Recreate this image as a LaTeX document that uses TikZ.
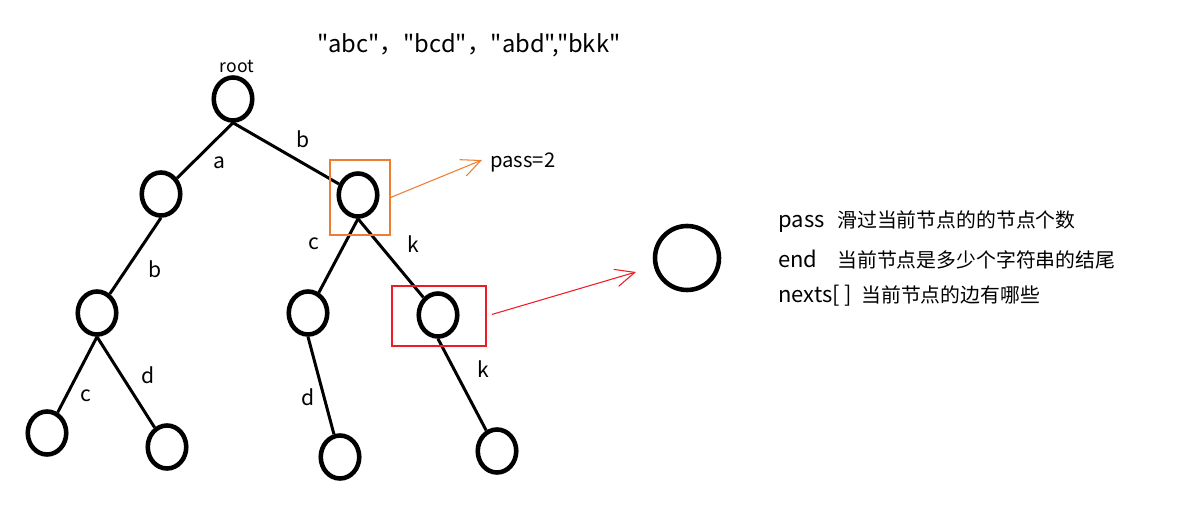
\documentclass[tikz,border=0pt]{standalone}
\usepackage{fontspec}
\setmainfont{Noto Sans CJK SC}[Ligatures=TeXOff]
\usetikzlibrary{shapes.geometric,arrows.meta}
\definecolor{boxorange}{RGB}{237,125,49}
\definecolor{boxred}{RGB}{237,28,36}

\begin{document}
\begin{tikzpicture}[x=0.02cm,y=-0.02cm,
  trie/.style={ellipse,draw,line width=2.6pt,minimum width=0.77cm,minimum height=0.86cm,inner sep=0pt},
  edge/.style={line width=1.7pt},
  lbl/.style={inner sep=0pt,font=\fontsize{12}{14}\selectfont},
  pointer/.style={line width=0.6pt,-{Straight Barb[length=11pt,width=10pt]}}]
  \useasboundingbox (0,0) rectangle (1192,517);
  \def\latin{\fontsize{12.5}{15}\selectfont}
  \def\zh{\fontsize{11.3}{14}\selectfont}
  % ---------------- words ----------------
  \node[anchor=base west,inner sep=0pt,font=\fontsize{13.5}{16}\selectfont] (words) at (317,53) {"abc"，"bcd"，"abd","bkk"};
  % ---------------- trie ----------------
  \foreach \n/\x/\y in {root/233/99,na/161/194,nb/358/195,nab/97/313,nbc/308/313,nbk/438/315,
                        nabc/47/433,nabd/167/447,nbcd/340/457,nbkk/497/451}
    \node[trie] (\n) at (\x,\y) {};
  \node[anchor=base,inner sep=0pt,font=\fontsize{10}{12}\selectfont] (rootlbl) at (237,72) {root};
  \foreach \u/\v/\c/\lx/\ly in {root/na/a/219/163,root/nb/b/303/139,na/nab/b/155/269,
                                nb/nbc/c/314/244,nb/nbk/k/413/244,nab/nabc/c/86/396,
                                nab/nabd/d/148/375,nbc/nbcd/d/308/397,nbk/nbkk/k/483/369}{
    \draw[edge] (\u.south) -- (\v);
    \node[lbl] (lbl-\v) at (\lx,\ly) {\c};
  }
  % ---------------- pointers ----------------
  \node[draw=boxorange,line width=0.6pt,minimum width=1.2cm,minimum height=1.5cm] (obox) at (360,197.5) {};
  \coordinate (otip) at (482,160);
  \draw[pointer,boxorange] (obox.east) -- (otip);
  \node[anchor=west,inner sep=0pt,font=\fontsize{11.5}{14}\selectfont] (passval) at (490,162) {pass=2};
  \node[draw=boxred,line width=0.8pt,minimum width=1.88cm,minimum height=1.2cm] (rbox) at (439,316) {};
  \coordinate (rtip) at (636,272);
  \draw[pointer,boxred,shorten <=3pt] (rbox.east) -- (rtip);
  \node[circle,draw,line width=2.6pt,minimum size=1.28cm,inner sep=0pt] (sample) at (687,258) {};
  % ---------------- fields ----------------
  \node[anchor=base west,inner sep=0pt,font=\latin] (fpass) at (778,227) {pass};
  \node[anchor=base west,inner sep=0pt,font=\zh] (dpass) at (837,227) {滑过当前节点的的节点个数};
  \node[anchor=base west,inner sep=0pt,font=\latin] (fend) at (778,267) {end};
  \node[anchor=base west,inner sep=0pt,font=\zh] (dend) at (837,267) {当前节点是多少个字符串的结尾};
  \node[anchor=base west,inner sep=0pt,font=\latin] (fnexts) at (778,302) {nexts[ ]};
  \node[anchor=base west,inner sep=0pt,font=\zh] (dnexts) at (861,302) {当前节点的边有哪些};
\end{tikzpicture}
\end{document}
